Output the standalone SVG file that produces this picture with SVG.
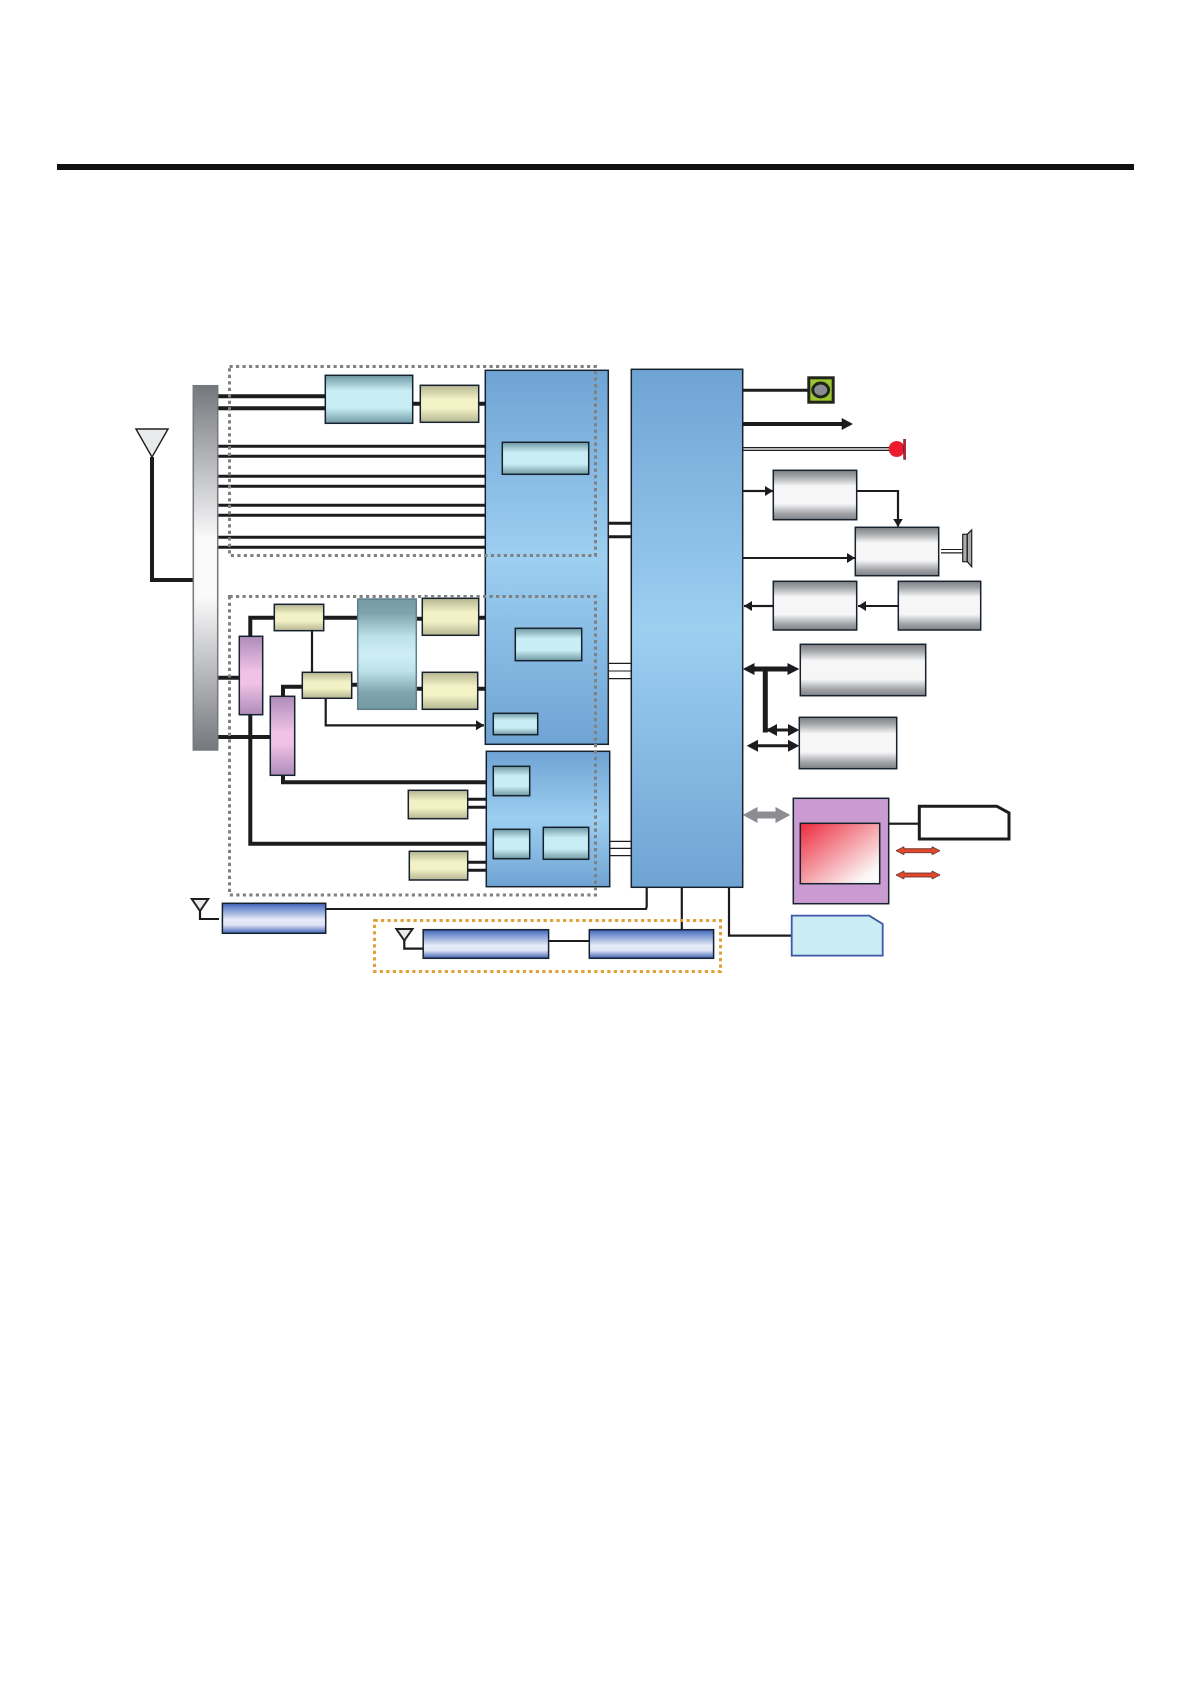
<svg xmlns="http://www.w3.org/2000/svg" width="1190" height="1682" viewBox="0 0 1190 1682">
<style>
.n{stroke:#16222e;stroke-width:1.5}
.blue{fill:url(#gBlue)}.cy{fill:url(#gCy)}.yl{fill:url(#gYl)}.gr{fill:url(#gGr)}.pu{fill:url(#gPu)}.mod{fill:url(#gMod)}
.c{fill:none;stroke:#1c1c1e;stroke-linejoin:miter}
.w1{stroke-width:1.2}.w2{stroke-width:2.2}.w3{stroke-width:3}.w4{stroke-width:4}.w5{stroke-width:5}
.dot{fill:none;stroke:#808183;stroke-width:3;stroke-dasharray:3.2 3.3}
.ant{fill:#e9eaeb;stroke:#222;stroke-width:1.5}
.red{fill:#e2492c;stroke:#5a2a20;stroke-width:.8}
</style>
<defs>
<linearGradient id="gBlue" x1="0" y1="0" x2="0" y2="1"><stop offset="0" stop-color="#6fa3d3"/><stop offset=".5" stop-color="#9dcff1"/><stop offset="1" stop-color="#6fa3d3"/></linearGradient>
<linearGradient id="gCy" x1="0" y1="0" x2="0" y2="1"><stop offset="0" stop-color="#6f99a4"/><stop offset=".32" stop-color="#c8edf4"/><stop offset=".68" stop-color="#c8edf4"/><stop offset="1" stop-color="#6f99a4"/></linearGradient>
<linearGradient id="gTeal" x1="0" y1="0" x2="0" y2="1"><stop offset="0" stop-color="#749aa4"/><stop offset=".13" stop-color="#7ea5ae"/><stop offset=".35" stop-color="#bfe3ea"/><stop offset=".5" stop-color="#cdeef4"/><stop offset=".65" stop-color="#bfe3ea"/><stop offset=".85" stop-color="#7ea5ae"/><stop offset="1" stop-color="#749aa4"/></linearGradient>
<linearGradient id="gYl" x1="0" y1="0" x2="0" y2="1"><stop offset="0" stop-color="#b5b592"/><stop offset=".38" stop-color="#f3f2c6"/><stop offset=".62" stop-color="#f3f2c6"/><stop offset="1" stop-color="#b5b592"/></linearGradient>
<linearGradient id="gGr" x1="0" y1="0" x2="0" y2="1"><stop offset="0" stop-color="#808286"/><stop offset=".12" stop-color="#a0a2a5"/><stop offset=".32" stop-color="#f6f6f7"/><stop offset=".68" stop-color="#f6f6f7"/><stop offset=".88" stop-color="#a0a2a5"/><stop offset="1" stop-color="#808286"/></linearGradient>
<linearGradient id="gBar" x1="0" y1="0" x2="0" y2="1"><stop offset="0" stop-color="#74777c"/><stop offset=".42" stop-color="#fafafb"/><stop offset=".58" stop-color="#fafafb"/><stop offset="1" stop-color="#74777c"/></linearGradient>
<linearGradient id="gPu" x1="0" y1="0" x2="0" y2="1"><stop offset="0" stop-color="#ad8cb9"/><stop offset=".45" stop-color="#f0c2e6"/><stop offset=".6" stop-color="#f0c2e6"/><stop offset="1" stop-color="#ad8cb9"/></linearGradient>
<linearGradient id="gMod" x1="0" y1="0" x2="0" y2="1"><stop offset="0" stop-color="#3f62b6"/><stop offset=".15" stop-color="#6d8bcc"/><stop offset=".55" stop-color="#e6ebf7"/><stop offset=".72" stop-color="#dfe5f4"/><stop offset="1" stop-color="#3f62b6"/></linearGradient>
<linearGradient id="gLcd" x1="0" y1="0" x2="1" y2="1"><stop offset="0" stop-color="#ec2a3c"/><stop offset=".85" stop-color="#fbf6f6"/><stop offset="1" stop-color="#fff"/></linearGradient>
<marker id="ah" markerUnits="userSpaceOnUse" markerWidth="10" markerHeight="10" refX="8" refY="5" orient="auto-start-reverse"><path d="M0 0L8 5L0 10z" fill="#1c1c1e"/></marker>
</defs>
<rect x="57" y="164" width="1077" height="6" fill="#111"/>
<g id="connectors">
<path class="c w4" d="M152 457V580H193"/>
<path class="c w4" d="M217 396.3H326M218 408.3H326M412 403.7H421M478 403.7H486"/>
<path class="c w3" d="M217 446.3H486M217 456.3H486M215 476.3H486M215 486.3H486M217 505.3H486M217 515.3H486M217 537.3H486M217 547.3H486"/>
<path class="c w3" d="M608 523.3H632M608 536.7H632"/>
<path class="c w1" d="M608 663.3H632M608 671H632M608 678.7H632M609 841.3H632M609 848.3H632M609 855.7H632"/>
<path class="c w4" d="M217 677.7H240M217 737H271"/>
<path class="c w4" d="M250.3 637V617.7H275M323 617.7H358M416 618.7H423M478 617.7H486"/>
<path class="c w4" d="M250.3 714V843.7H487"/>
<path class="c w4" d="M283 775V782.3H487"/>
<path class="c w4" d="M283 697V686.7H303"/>
<path class="c w4" d="M351 684.7H358M416 688.7H423M477 688.7H486"/>
<path class="c w2" d="M312 630V673"/>
<path class="c w2" d="M325.7 698V725.3H484" marker-end="url(#ah)"/>
<path class="c w3" d="M467 799.3H487M467 807.3H487M467 862.3H487M467 870.3H487"/>
<path class="c w3" d="M742 390.3H808"/>
<path class="c w4" d="M740 424H845"/><path d="M841.7 418L853 424L841.7 430z" fill="#1c1c1e"/>
<path d="M743 449H890" fill="none" stroke="#1c1c1e" stroke-width="4"/><path d="M743 449H890" fill="none" stroke="#b5b6b8" stroke-width="2"/>
<path class="c w2" d="M743 491H773" marker-end="url(#ah)"/>
<path class="c w2" d="M856 491H898V526.7" marker-end="url(#ah)"/>
<path class="c w2" d="M743 558H855" marker-end="url(#ah)"/>
<path class="c w2" d="M773 606H744" marker-end="url(#ah)"/>
<path class="c w2" d="M898 606H858" marker-end="url(#ah)"/>
<path class="c w1" d="M941 549.5H963M941 552.8H963"/>
<path class="c w5" d="M765.3 669V732.5"/>
<path class="c w5" d="M752 669H790"/>
<path d="M742.7 669L754.5 663V675zM799.3 669L787.5 663V675z" fill="#1c1c1e"/>
<path class="c w3" d="M765 730H790"/>
<path d="M766 730L777 724V736zM799.3 730L788 724V736z" fill="#1c1c1e"/>
<path class="c w3" d="M755 745.7H790"/>
<path d="M746.7 745.7L758 739.7V751.7zM799.3 745.7L788 739.7V751.7z" fill="#1c1c1e"/>
<path d="M742.7 815L757.5 807V811.5H775.5V807L790.3 815L775.5 823V818.5H757.5V823z" fill="#8b8d90"/>
<path class="c w2" d="M887 823.7H919"/>
<path class="c w2" d="M729 887V935.7H792"/>
<path class="c w2" d="M646.7 887V906.7L646 909H326"/>
<path class="c w2" d="M681.8 887V930"/>
<path class="c w2" d="M548 941H590"/>
<path class="c w2" d="M200 910V919H219"/>
<path class="c w2" d="M404.3 940V948.7H424"/>
</g>
<g id="antenna"><path class="ant" d="M136 429H168L152 457z"/></g>
<g id="switch"><rect x="193.3" y="385.7" width="24.4" height="364.3" fill="url(#gBar)" stroke="#77797c" stroke-width="1.5"/></g>
<g id="block-rf1"><rect class="n blue" x="485.3" y="370.3" width="123" height="374"/></g>
<g id="block-rf2"><rect class="n blue" x="486.3" y="751.3" width="123.4" height="135.4"/></g>
<g id="cpu"><rect class="n blue" x="631.3" y="369.3" width="111.4" height="518"/></g>
<g id="cy1"><rect class="n cy" x="325.3" y="375.3" width="87.4" height="48"/></g>
<g id="yl1"><rect class="n yl" x="420.3" y="385.3" width="58.4" height="37"/></g>
<g id="cy2"><rect class="n cy" x="502.3" y="442.3" width="86.4" height="32"/></g>
<g id="yl2"><rect class="n yl" x="274.3" y="604.3" width="49.4" height="26.4"/></g>
<g id="yl3"><rect class="n yl" x="302.3" y="672.3" width="49.4" height="26"/></g>
<g id="teal"><rect x="357.7" y="599" width="58.6" height="110.3" fill="url(#gTeal)" stroke="#5e7f88" stroke-width="1.5"/></g>
<g id="yl4"><rect class="n yl" x="422.3" y="598.3" width="56.4" height="37"/></g>
<g id="yl5"><rect class="n yl" x="422.3" y="672.3" width="55.4" height="37"/></g>
<g id="cy3"><rect class="n cy" x="515.3" y="628.3" width="66.4" height="32.4"/></g>
<g id="cy4"><rect class="n cy" x="493.3" y="713.3" width="44.4" height="21.4"/></g>
<g id="pu1"><rect class="n pu" x="239.3" y="636.3" width="23.4" height="78.4"/></g>
<g id="pu2"><rect class="n pu" x="270.3" y="696.3" width="24.4" height="79"/></g>
<g id="cy5"><rect class="n cy" x="493.3" y="766.3" width="36.4" height="29.4"/></g>
<g id="cy6"><rect class="n cy" x="493.3" y="829.3" width="36.4" height="29.4"/></g>
<g id="cy7"><rect class="n cy" x="543.3" y="827.3" width="45.4" height="32"/></g>
<g id="yl6"><rect class="n yl" x="408.3" y="790.3" width="59.4" height="28.4"/></g>
<g id="yl7"><rect class="n yl" x="409.3" y="851.3" width="58.4" height="28.7"/></g>
<g id="jack"><rect x="808.8" y="377.8" width="24.4" height="24.4" fill="#9cc730" stroke="#22261a" stroke-width="3"/><ellipse cx="820.7" cy="390" rx="8" ry="7" fill="#8b8d95" stroke="#22261a" stroke-width="3"/></g>
<g id="led"><circle cx="896.7" cy="449" r="8" fill="#ec1c2e"/><rect x="903.7" y="439.3" width="2" height="20" fill="#c8202e" stroke="#5a1a20" stroke-width=".6"/></g>
<g id="gr1"><rect class="n gr" x="773.3" y="470.3" width="83.4" height="49.4"/></g>
<g id="gr2"><rect class="n gr" x="855.3" y="527.3" width="83.4" height="48.4"/></g>
<g id="speaker"><rect x="962.7" y="534.3" width="4.6" height="27.4" fill="#a9abad" stroke="#222" stroke-width="1.2"/><path d="M967.3 534.3L971.7 530V566.7L967.3 561.7z" fill="#a9abad" stroke="#222" stroke-width="1.2"/></g>
<g id="gr3"><rect class="n gr" x="773.3" y="581.3" width="83.4" height="48.7"/></g>
<g id="gr4"><rect class="n gr" x="898.3" y="581.3" width="82.4" height="48.7"/></g>
<g id="gr5"><rect class="n gr" x="800.3" y="644.3" width="125.4" height="51.4"/></g>
<g id="gr6"><rect class="n gr" x="799.3" y="717.3" width="97.4" height="51.4"/></g>
<g id="lcd"><rect class="n" x="793.3" y="798.3" width="95.4" height="105.4" fill="#ca9bd0"/><rect class="n" x="800.3" y="823.3" width="79.4" height="60.4" fill="url(#gLcd)"/></g>
<g id="connector-box"><path d="M919.3 806.3H996.7L1009 813V839H919.3z" fill="#fff" stroke="#1c1c1e" stroke-width="3"/></g>
<g id="red-arrows"><path class="red" d="M896 850.7L904 846.7V848.7H932V846.7L940 850.7L932 854.7V852.7H904V854.7z"/><path class="red" d="M896 875L904 871V873H932V871L940 875L932 879V877H904V879z"/></g>
<g id="sd"><path d="M791.7 915.7H869.3L882.7 924V955.7H791.7z" fill="#c9ecf5" stroke="#3f57a6" stroke-width="1.8"/></g>
<g id="ant2"><path d="M191.8 899H208.2L200 911z" fill="#e9eaeb" stroke="#222" stroke-width="2"/></g>
<g id="mod1"><rect class="n mod" x="222.4" y="903.3" width="103.3" height="30"/></g>
<g id="ant3"><path d="M396.4 929H412.5L404.3 940.5z" fill="#e9eaeb" stroke="#222" stroke-width="2"/></g>
<g id="mod2"><rect class="n mod" x="423.2" y="929.7" width="125.4" height="28.6"/></g>
<g id="mod3"><rect class="n mod" x="589.3" y="929.7" width="124.3" height="28.6"/></g>
<rect class="dot" x="229.5" y="366.5" width="366" height="189"/>
<rect class="dot" x="229.5" y="596.5" width="366" height="298.5"/>
<rect x="374.5" y="920.5" width="346" height="51" fill="none" stroke="#e0a136" stroke-width="3" stroke-dasharray="3.2 3.3"/>
</svg>
